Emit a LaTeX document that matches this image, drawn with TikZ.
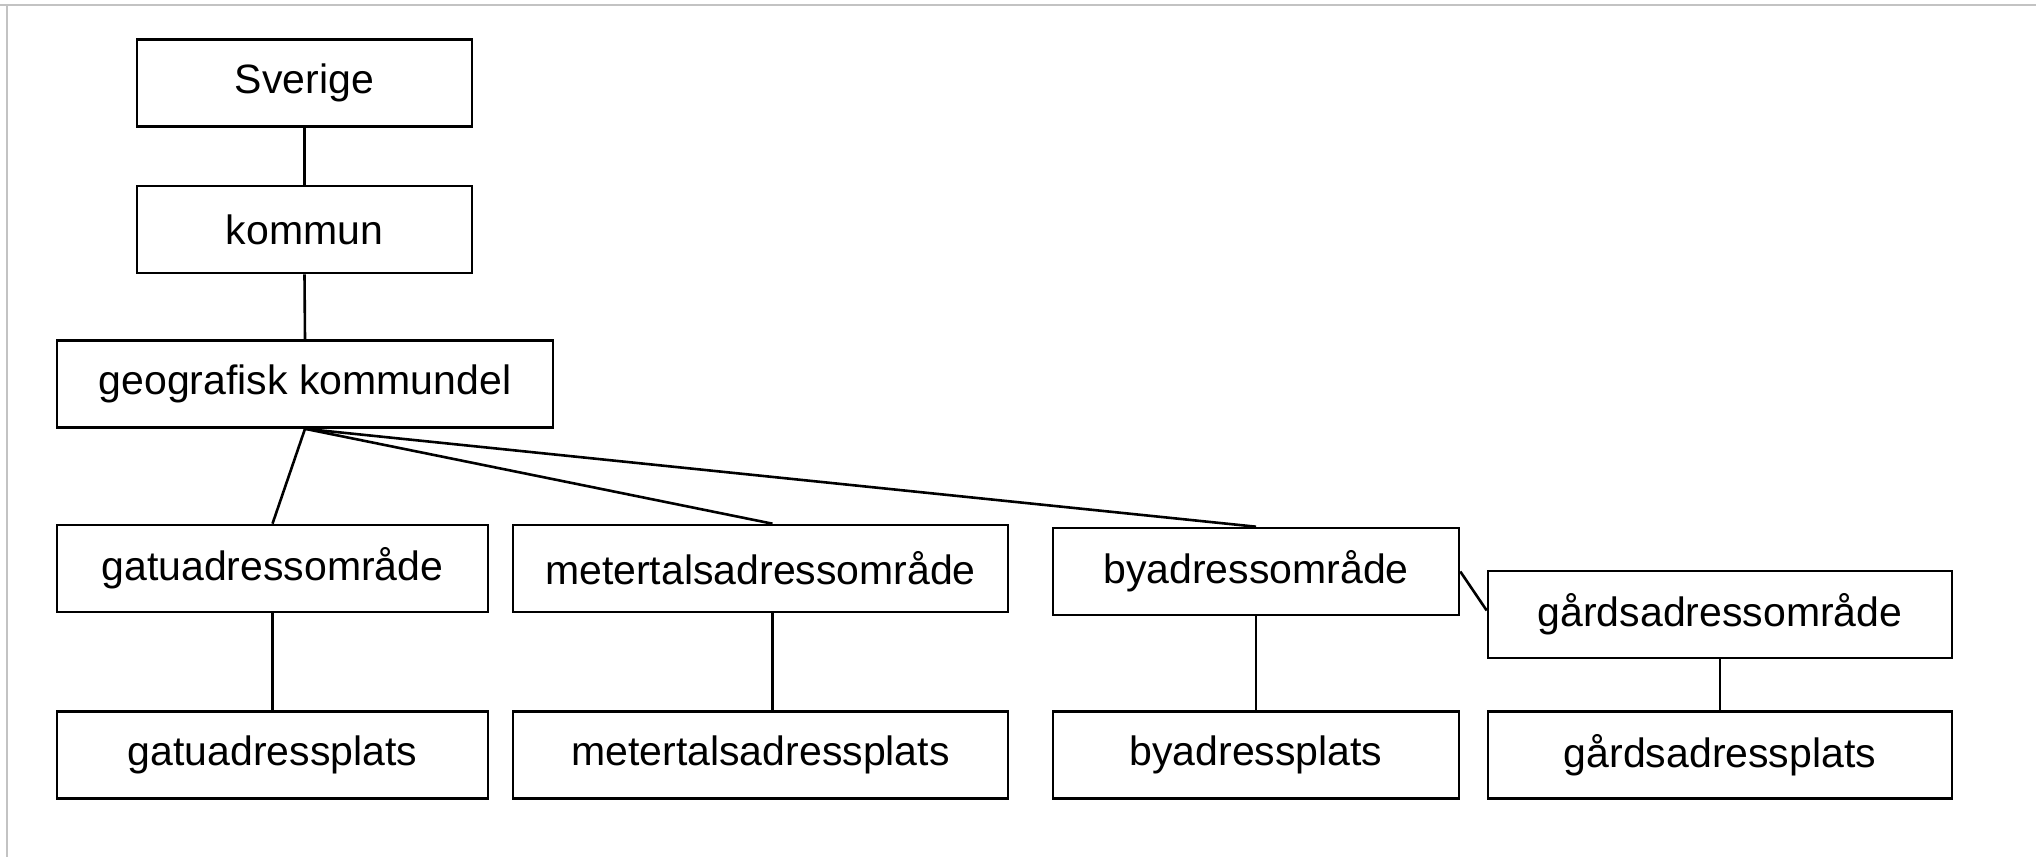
\documentclass[tikz,border=0pt]{standalone}
\usepackage{fontspec}
\setmainfont{Liberation Sans}
\definecolor{framegray}{RGB}{195,195,195}
\begin{document}
\begin{tikzpicture}[x=0.5pt,y=-0.5pt,
  box/.style={draw=black, line width=1.3pt, inner sep=0pt, minimum height=43.5pt,
    font=\fontsize{20.5pt}{24pt}\selectfont},
  conn/.style={draw=black, line width=1.3pt},
  framel/.style={draw=framegray, line width=1pt}]
\useasboundingbox (0,0) rectangle (2036,857);
\draw[framel] (0,5) -- (2036,5);
\draw[framel] (7,5) -- (7,857);

\node[box, minimum width=167.5pt] (sv) at (304.5,83) {Sverige};
\node[box, minimum width=167.5pt] (ko) at (304.5,229.5) {kommun};
\node[box, minimum width=248pt] (ge) at (305,384) {geografisk kommundel};
\node[box, minimum width=215.5pt] (gat) at (272.5,568.5) {gatuadressområde};
\node[box, minimum width=247.5pt] (met) at (760.5,568.5) {metertalsadressområde};
\node[box, minimum width=203pt] (bya) at (1256,571.5) {byadressområde};
\node[box, minimum width=232pt] (gar) at (1720,614.5) {gårdsadressområde};
\node[box, minimum width=215.5pt] (gatp) at (272.5,755) {gatuadressplats};
\node[box, minimum width=247.5pt] (metp) at (760.5,755) {metertalsadressplats};
\node[box, minimum width=203pt] (byap) at (1256,755) {byadressplats};
\node[box, minimum width=232pt] (garp) at (1720,755) {gårdsadressplats};

\draw[conn] (sv.south) -- (ko.north);
\draw[conn] (ko.south) -- (ge.north);
\draw[conn] (ge.south) -- (gat.north);
\draw[conn] (ge.south) -- ([xshift=6pt]met.north);
\draw[conn] (ge.south) -- (bya.north);
\draw[conn] (bya.east) -- ([yshift=2pt]gar.west);
\draw[conn] (gat.south) -- (gatp.north);
\draw[conn] ([xshift=6pt]met.south) -- ([xshift=6pt]metp.north);
\draw[conn] (bya.south) -- (byap.north);
\draw[conn] (gar.south) -- (garp.north);
\end{tikzpicture}
\end{document}
